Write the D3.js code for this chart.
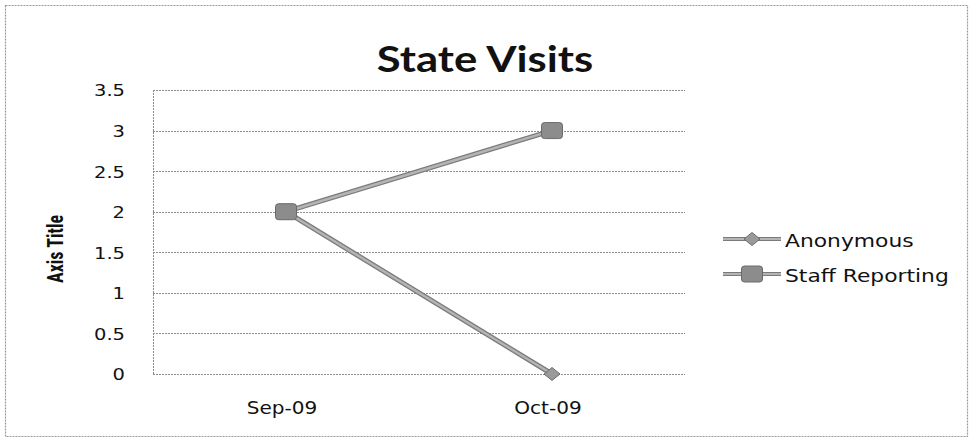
<!DOCTYPE html>
<html>
<head>
<meta charset="utf-8">
<script src="https://cdn.jsdelivr.net/npm/d3@7"></script>
<style>
  body { margin: 0; background: #fff; }
  svg { display: block; }
</style>
</head>
<body>
<div id="vis1"></div>
<script>
// data
const months = ["Sep-09", "Oct-09"];
const anonymous = [2, 0];
const staffReporting = [2, 3];
const yTicks = [0, 0.5, 1, 1.5, 2, 2.5, 3, 3.5];

// frame
const FRAME_WIDTH = 976;
const FRAME_HEIGHT = 442;
const PLOT = {left: 153, right: 685, top: 90, bottom: 374};
const SX = 1.18; // the scan is a bit stretched sideways, so text is too

const svg = d3.select("#vis1")
  .append("svg")
    .attr("width", FRAME_WIDTH)
    .attr("height", FRAME_HEIGHT);

// outer chart border
svg.append("rect")
  .attr("x", 5.5).attr("y", 5.5)
  .attr("width", 962).attr("height", 431)
  .attr("fill", "none")
  .attr("stroke", "#9a9a9a")
  .attr("stroke-width", 1.2)
  .attr("stroke-dasharray", "2,1");

// title
svg.append("text")
  .attr("transform", "translate(485,72) scale(" + SX + ",1)")
  .attr("text-anchor", "middle")
  .style("font-family", "Lato, 'Open Sans', sans-serif")
  .style("font-weight", "bold")
  .style("font-size", "37px")
  .attr("fill", "#111")
  .text("State Visits");

// scales
const x = d3.scaleBand()
  .domain(months)
  .range([PLOT.left, PLOT.right]);

const y = d3.scaleLinear()
  .domain([0, 3.5])
  .range([PLOT.bottom, PLOT.top]);

// gridlines
svg.append("g")
  .selectAll("line")
  .data(yTicks)
  .enter()
  .append("line")
    .attr("x1", PLOT.left).attr("x2", PLOT.right)
    .attr("y1", d => Math.round(y(d)) + 0.5)
    .attr("y2", d => Math.round(y(d)) + 0.5)
    .attr("stroke", "#8c8c8c")
    .attr("stroke-width", 1)
    .attr("stroke-dasharray", "2,1");

// left axis line
svg.append("line")
  .attr("x1", PLOT.left + 0.5).attr("x2", PLOT.left + 0.5)
  .attr("y1", PLOT.top).attr("y2", PLOT.bottom)
  .attr("stroke", "#8c8c8c")
  .attr("stroke-dasharray", "2,1");

// y axis labels
const yAxis = svg.append("g")
  .attr("transform", "translate(" + PLOT.left + ",0)")
  .call(d3.axisLeft(y).tickValues(yTicks).tickSize(0)
    .tickFormat(d3.format("")));
yAxis.select(".domain").remove();
yAxis.selectAll("text")
  .attr("x", 0)
  .attr("dy", "0.36em")
  .attr("transform", "translate(-28,0) scale(" + SX + ",1)")
  .style("font-family", "'DejaVu Sans', Verdana, sans-serif")
  .style("font-size", "16.5px")
  .attr("fill", "#111");

// x axis labels
const xAxis = svg.append("g")
  .attr("transform", "translate(0," + PLOT.bottom + ")")
  .call(d3.axisBottom(x).tickSize(0));
xAxis.select(".domain").remove();
xAxis.selectAll("text")
  .attr("y", 0)
  .attr("dy", 0)
  .attr("transform", "translate(-4,40) scale(" + SX + ",1)")
  .style("font-family", "'DejaVu Sans', Verdana, sans-serif")
  .style("font-size", "17px")
  .attr("fill", "#111");

// y axis title
svg.append("text")
  .attr("transform", "translate(63,249) scale(1.2,1) rotate(-90)")
  .attr("text-anchor", "middle")
  .style("font-family", "'Liberation Sans Narrow', 'Roboto Condensed', sans-serif")
  .style("font-weight", "bold")
  .style("font-size", "18px")
  .attr("fill", "#111")
  .text("Axis Title");

const cx = d => x(d) + x.bandwidth() / 2;

const line = d3.line()
  .x(d => cx(d.m))
  .y(d => y(d.v));

const series = [
  {name: "Anonymous", values: anonymous, shape: "diamond"},
  {name: "Staff Reporting", values: staffReporting, shape: "square"}
];

function drawMarker(g, shape, px, py) {
  if (shape === "diamond") {
    g.append("path")
      .attr("d", "M-8,0L0,-6.5L8,0L0,6.5Z")
      .attr("transform", "translate(" + px + "," + py + ")")
      .attr("fill", "#9a9a9a")
      .attr("stroke", "#6e6e6e")
      .attr("stroke-width", 1);
  } else {
    g.append("rect")
      .attr("x", px - 10.5).attr("y", py - 8)
      .attr("width", 21).attr("height", 16)
      .attr("rx", 3)
      .attr("fill", "#8c8c8c")
      .attr("stroke", "#6a6a6a")
      .attr("stroke-width", 1);
  }
}

// lines + markers
series.forEach(s => {
  const pts = months.map((m, i) => ({m: m, v: s.values[i]}));
  const g = svg.append("g");
  g.append("path")
    .datum(pts)
    .attr("d", line)
    .attr("fill", "none")
    .attr("stroke", "#7a7a7a")
    .attr("stroke-width", 5);
  g.append("path")
    .datum(pts)
    .attr("d", line)
    .attr("fill", "none")
    .attr("stroke", "#b4b4b4")
    .attr("stroke-width", 2.5);
  pts.forEach(p => drawMarker(g, s.shape, cx(p.m), y(p.v)));
});

// legend
const legend = svg.append("g");
series.forEach((s, i) => {
  const ly = 239 + i * 35;
  const g = legend.append("g");
  g.append("line")
    .attr("x1", 723).attr("x2", 781)
    .attr("y1", ly).attr("y2", ly)
    .attr("stroke", "#7a7a7a").attr("stroke-width", 4);
  g.append("line")
    .attr("x1", 723).attr("x2", 781)
    .attr("y1", ly).attr("y2", ly)
    .attr("stroke", "#b4b4b4").attr("stroke-width", 2);
  drawMarker(g, s.shape, 752, ly);
  g.append("text")
    .attr("transform", "translate(785," + (ly + 8) + ") scale(" + SX + ",1)")
    .style("font-family", "'DejaVu Sans', Verdana, sans-serif")
    .style("font-size", "18.5px")
    .attr("fill", "#111")
    .text(s.name);
});
</script>
</body>
</html>
